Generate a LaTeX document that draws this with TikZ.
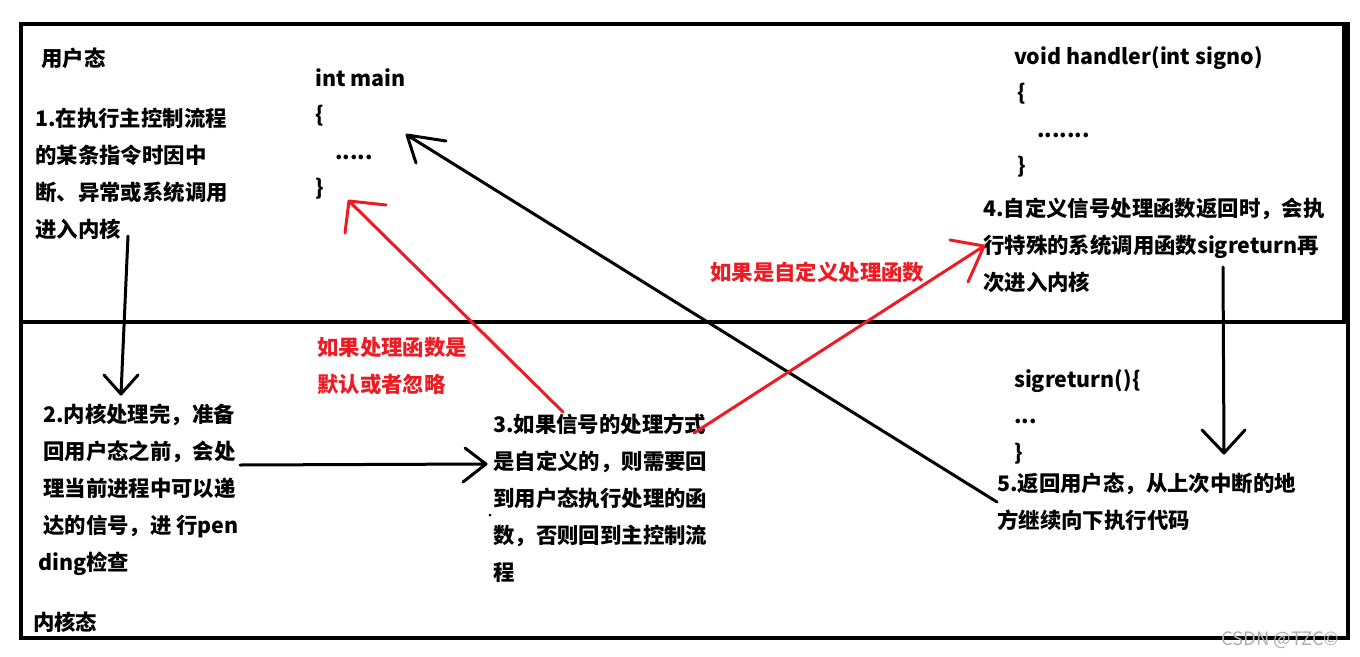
\documentclass[tikz,border=0pt]{standalone}
\usepackage{fontspec}
\setmainfont{Noto Sans CJK SC}
\definecolor{pred}{RGB}{237,28,36}
\definecolor{wm}{RGB}{175,175,175}
\tikzset{
  txt/.style={anchor=base west, inner sep=0pt, font=\bfseries\fontsize{21.4}{37}\selectfont},
  code/.style={anchor=base west, inner sep=0pt, font=\bfseries\fontsize{21.4}{36.5}\selectfont},
  redtxt/.style={txt, text=pred},
  bl/.style={line width=3pt, line cap=round, line join=round},
  rl/.style={bl, draw=pred},
  frame/.style={line width=4pt},
}
\begin{document}
\begin{tikzpicture}[x=1pt,y=-1pt]
\useasboundingbox (0,0) rectangle (1360,656);
% frames
\draw[frame] (21,24) rectangle (1348,638);
\draw[frame] (21,322) -- (1348,322);
\draw[line width=7pt] (1345,24) -- (1345,322);

% texts
\node[txt] (user) at (41,66) {用户态};
\node[txt] (kern) at (33,630) {内核态};
\node[txt] (s1) at (35,126) {\vtop{\hbox{1.在执行主控制流程}\hbox{的某条指令时因中}\hbox{断、异常或系统调用}\hbox{进入内核}}};
\node[code] (main) at (315,86) {\vtop{\hbox{int main}\hbox{\{}\hbox{\hspace{20pt}.....}\hbox{\}}}};
\node[code] (hand) at (1014,64) {\vtop{\hbox{void handler(int signo)}\hbox{\hspace{3pt}\{}\hbox{\hspace{23pt}.......}\hbox{\hspace{3pt}\}}}};
\node[txt] (s4) at (983,216) {\vtop{\hbox{4.自定义信号处理函数返回时，会执}\hbox{行特殊的系统调用函数sigreturn再}\hbox{次进入内核}}};
\node[redtxt] (rcust) at (710,280) {如果是自定义处理函数};
\node[redtxt] (rdef) at (317,355) {\vtop{\hbox{如果处理函数是}\hbox{默认或者忽略}}};
\node[txt] (s2) at (43,422) {\vtop{\hbox{2.内核处理完，准备}\hbox{回用户态之前，会处}\hbox{理当前进程中可以递}\hbox{达的信号，进 行pen}\hbox{\hspace{-5pt}ding检查}}};
\node[txt] (s3) at (493,432) {\vtop{\hbox{3.如果信号的处理方式}\hbox{是自定义的，则需要回}\hbox{到用户态执行处理的函}\hbox{数，否则回到主控制流}\hbox{程}}};
\node[code] (sigr) at (1014,387) {\vtop{\hbox{sigreturn()\{}\hbox{...}\hbox{\}}}};
\node[txt] (s5) at (997,491) {\vtop{\hbox{5.返回用户态，从上次中断的地}\hbox{方继续向下执行代码}}};
\node[anchor=base west, inner sep=0pt, text=wm, font=\fontsize{18.5}{20}\selectfont] (wmk) at (1221,645) {CSDN @TZC©};
\fill (490,515) circle (1.5pt);

% arrow 1: user -> kernel
\coordinate (a1s) at (128,236); \coordinate (a1t) at (121,394);
\coordinate (a1l) at (104,375); \coordinate (a1r) at (138,375);
\draw[bl] (a1s) -- (a1t) (a1l) -- (a1t) -- (a1r);
% arrow 2: step2 -> step3
\coordinate (a2s) at (240,465); \coordinate (a2t) at (486,464);
\coordinate (a2l) at (465,448); \coordinate (a2r) at (463,482);
\draw[bl] (a2s) -- (a2t) (a2l) -- (a2t) -- (a2r);
% arrow 3: step5 -> main
\coordinate (a3s) at (997,502); \coordinate (a3t) at (407,135);
\coordinate (a3l) at (446,141); \coordinate (a3r) at (416,163);
\draw[bl] (a3s) -- (a3t) (a3l) -- (a3t) -- (a3r);
% arrow 4: step4 -> sigreturn
\coordinate (a4s) at (1223,267); \coordinate (a4t) at (1224,453);
\coordinate (a4l) at (1202,430); \coordinate (a4r) at (1245,430);
\draw[bl] (a4s) -- (a4t) (a4l) -- (a4t) -- (a4r);
% red arrow 5: step3 -> main (default/ignore)
\coordinate (a5s) at (563,412); \coordinate (a5t) at (349,201);
\coordinate (a5l) at (386,205); \coordinate (a5r) at (345,233);
\draw[rl] (a5s) -- (a5t) (a5l) -- (a5t) -- (a5r);
% red arrow 6: step3 -> handler
\coordinate (a6s) at (694,433); \coordinate (a6t) at (984,246);
\coordinate (a6l) at (950,240); \coordinate (a6r) at (968,282);
\draw[rl] (a6s) -- (a6t) (a6l) -- (a6t) -- (a6r);
\end{tikzpicture}
\end{document}
